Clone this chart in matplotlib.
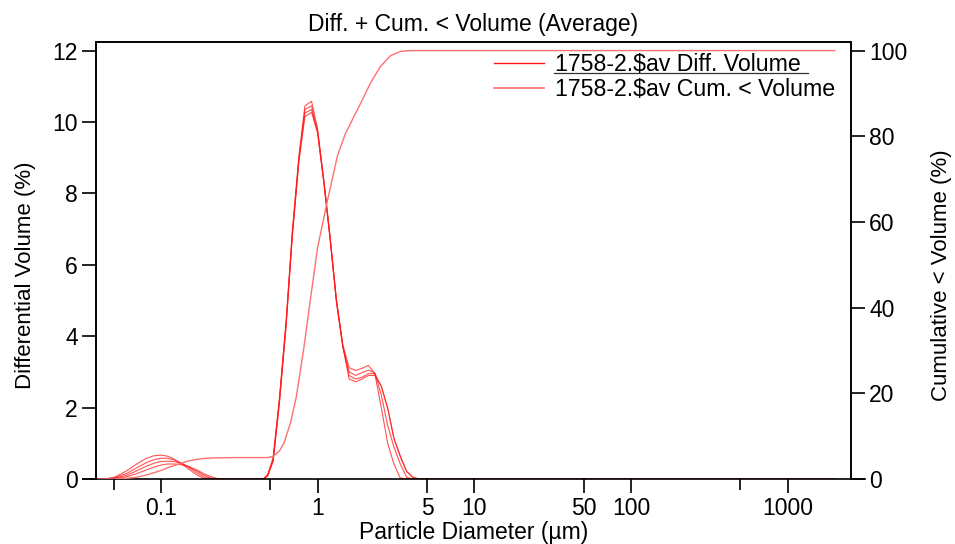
import numpy as np
import matplotlib
matplotlib.use('Agg')
import matplotlib.pyplot as plt
from matplotlib.lines import Line2D
from matplotlib.ticker import FixedLocator, NullFormatter, FixedFormatter

plt.rcParams['font.family'] = ['Liberation Sans', 'DejaVu Sans']

# particle diameter (um) for the differential runs
diam = [0.04, 0.043, 0.05, 0.06, 0.07, 0.08, 0.09, 0.1, 0.11, 0.12, 0.135, 0.15,
        0.17, 0.19, 0.21, 0.23, 0.26, 0.3, 0.4, 0.45, 0.48, 0.52, 0.57, 0.63,
        0.69, 0.76, 0.83, 0.915, 1.0, 1.1, 1.2, 1.32, 1.45, 1.59, 1.75, 1.92,
        2.11, 2.32, 2.55, 2.8, 3.07, 3.37, 3.7, 4.06, 4.46, 5, 10, 100, 1000, 2000]

run_a = [0, 0, 0.04, 0.22, 0.42, 0.57, 0.65, 0.67, 0.64, 0.57, 0.43, 0.28,
         0.11, 0.01, 0, 0, 0, 0, 0, 0, 0.12, 0.6, 2.25, 4.45,
         6.95, 9.05, 10.45, 10.58, 9.8, 8.3, 6.8, 5.0, 3.75, 3.12, 3.04, 3.1,
         3.18, 2.95, 2.0, 1.0, 0.42, 0.03, 0, 0, 0, 0, 0, 0, 0, 0]
run_b = [0, 0, 0.03, 0.15, 0.31, 0.45, 0.54, 0.58, 0.58, 0.54, 0.45, 0.33,
         0.17, 0.05, 0, 0, 0, 0, 0, 0, 0.1, 0.55, 2.2, 4.4,
         6.9, 9.0, 10.35, 10.45, 9.75, 8.3, 6.8, 5.0, 3.7, 3.0, 2.9, 2.98,
         3.05, 2.97, 2.35, 1.5, 0.9, 0.42, 0.05, 0, 0, 0, 0, 0, 0, 0]
run_c = [0, 0, 0.02, 0.10, 0.23, 0.35, 0.44, 0.49, 0.50, 0.49, 0.43, 0.35,
         0.22, 0.10, 0.02, 0, 0, 0, 0, 0, 0.1, 0.5, 2.15, 4.35,
         6.85, 8.95, 10.25, 10.35, 9.7, 8.25, 6.75, 4.95, 3.7, 2.9, 2.8, 2.85,
         2.95, 2.95, 2.6, 2.0, 1.15, 0.65, 0.22, 0.05, 0, 0, 0, 0, 0, 0]
run_d = [0, 0, 0.01, 0.06, 0.15, 0.25, 0.33, 0.39, 0.42, 0.42, 0.40, 0.35,
         0.25, 0.14, 0.06, 0.01, 0, 0, 0, 0, 0.08, 0.5, 2.1, 4.3,
         6.8, 8.9, 10.15, 10.27, 9.7, 8.25, 6.75, 4.95, 3.7, 2.8, 2.72, 2.8,
         2.9, 2.9, 2.6, 1.98, 1.13, 0.63, 0.2, 0.04, 0, 0, 0, 0, 0, 0]

# cumulative < volume (average)
cum_diam = [0.04, 0.05, 0.06, 0.07, 0.08, 0.09, 0.1, 0.11, 0.12, 0.135, 0.15,
            0.17, 0.19, 0.21, 0.23, 0.3, 0.4, 0.48, 0.52, 0.57, 0.61, 0.67,
            0.73, 0.82, 0.9, 1.0, 1.14, 1.34, 1.5, 1.7, 1.9, 2.18, 2.52, 2.92,
            3.38, 3.9, 2000]
cum_vol = [0, 0.02, 0.15, 0.4, 0.9, 1.45, 2.0, 2.6, 3.1, 3.7, 4.2,
           4.6, 4.8, 4.9, 4.95, 5.0, 5.0, 5.0, 5.3, 6.5, 8.4, 13,
           19, 31, 42, 54, 64, 75.5, 80.5, 84.5, 88, 92.5, 96.3, 98.8,
           99.8, 100, 100]

major_ticks = [0.1, 1, 5, 10, 50, 100, 1000]
major_labels = ['0.1', '1', '5', '10', '50', '100', '1000']
minor_ticks = [0.05, 0.5, 500]

diff_col = '#ff1a1a'
cum_col = '#ff7070'

fig = plt.figure(figsize=(9.55, 5.44), dpi=100)
ax = fig.add_axes([96/955, 1-479/544, 755/955, 437/544])
ax2 = ax.twinx()

for run in (run_a, run_b, run_c, run_d):
    ax.plot(diam, run, color=diff_col, lw=0.8, alpha=0.75)
ax2.plot(cum_diam, cum_vol, color=cum_col, lw=1.0)

ax.set_xscale('log')
ax.set_xlim(0.0385, 2540)
ax.set_ylim(0, 12.24)
ax2.set_ylim(0, 102)

ax.xaxis.set_major_locator(FixedLocator(major_ticks))
ax.xaxis.set_major_formatter(FixedFormatter(major_labels))
ax.xaxis.set_minor_locator(FixedLocator(minor_ticks))
ax.xaxis.set_minor_formatter(NullFormatter())
ax.set_yticks([0, 2, 4, 6, 8, 10, 12])
ax2.set_yticks([0, 20, 40, 60, 80, 100])

fs = 16.5
ax.tick_params(axis='x', which='major', direction='out', length=10, width=1.2,
               labelsize=fs, pad=3)
ax.tick_params(axis='x', which='minor', direction='out', length=8, width=1.2)
ax.tick_params(axis='y', direction='out', length=10, width=1.2, labelsize=fs, pad=3)
ax2.tick_params(axis='y', direction='out', length=10, width=1.2, labelsize=fs, pad=3)

for a in (ax, ax2):
    for s in a.spines.values():
        s.set_linewidth(1.2)
    a.spines['bottom'].set_visible(False)

# bottom axis line runs a bit past both sides of the box
ax.plot([-0.0172, 1.0185], [0, 0], transform=ax.transAxes, color='black',
        lw=1.2, clip_on=False, zorder=5)

ax.set_xlabel('Particle Diameter (µm)', fontsize=fs, labelpad=1)
ax.set_ylabel('Differential Volume (%)', fontsize=16, labelpad=12)
ax2.set_ylabel('Cumulative < Volume (%)', fontsize=16, labelpad=17)
ax.yaxis.label.set_y(0.467)
ax2.yaxis.label.set_y(0.467)
ax.set_title('Diff. + Cum. < Volume (Average)', fontsize=fs, pad=8)

handles = [Line2D([], [], color=diff_col, lw=1.0),
           Line2D([], [], color=cum_col, lw=1.2)]
leg = ax.legend(handles, ['1758-2.$av Diff. Volume', '1758-2.$av Cum. < Volume'],
                loc='upper left', bbox_to_anchor=(0.527, 0.974), frameon=False,
                fontsize=16.7, handlelength=2.15, handletextpad=0.5,
                labelspacing=0.06, borderpad=0, borderaxespad=0)
ax.plot([0.6066, 0.943], [0.928, 0.928], transform=ax.transAxes,
        color='#333333', lw=0.9)

fig.savefig('out.png', dpi=100)
